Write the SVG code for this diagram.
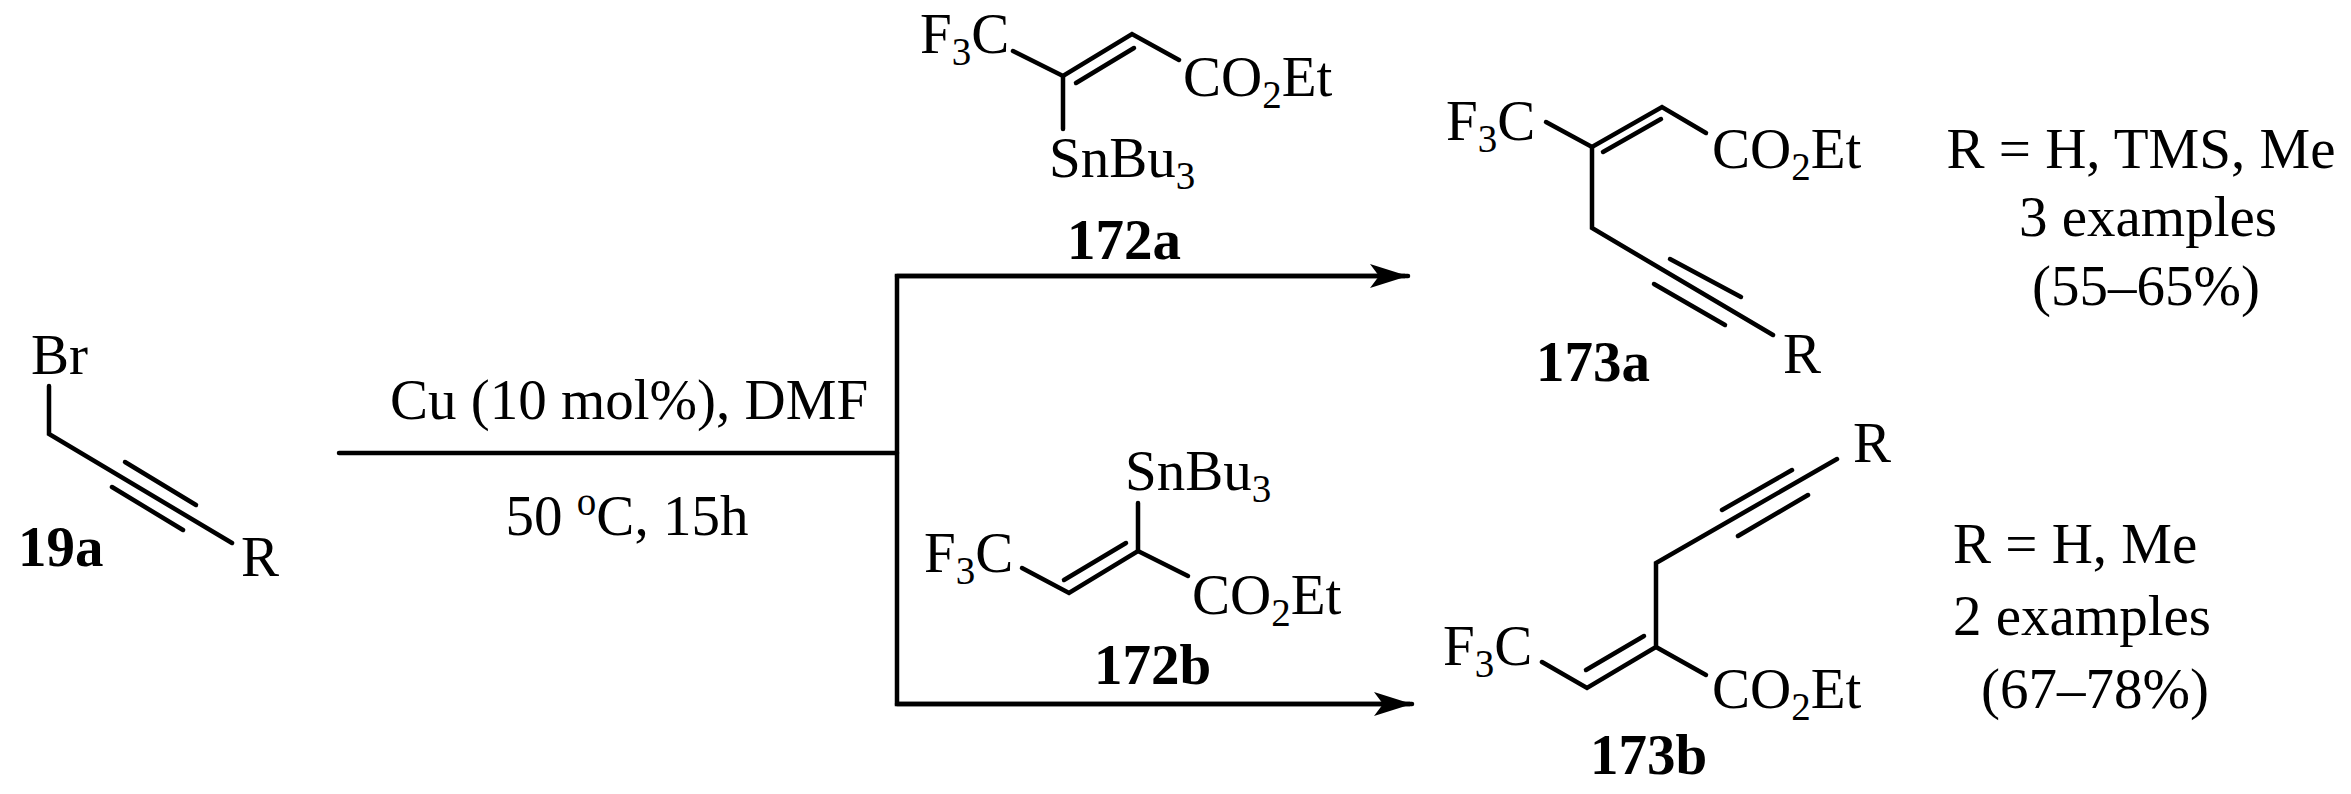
<svg xmlns="http://www.w3.org/2000/svg" width="2351" height="794" viewBox="0 0 2351 794">
<style>
text{font-family:"Liberation Serif","Times New Roman",serif;font-size:57px;fill:#000}
.b{font-weight:bold}
.s{font-size:39px}
line,polyline{stroke:#000;stroke-width:4.5;fill:none;stroke-linecap:round}
</style>
<defs>
<marker id="ah" markerUnits="userSpaceOnUse" markerWidth="40" markerHeight="24" refX="38" refY="12" orient="auto">
<path d="M0,0 L38,12 L0,24 L9,12 Z" fill="#000"/>
</marker>
</defs>
<rect width="2351" height="794" fill="#fff"/>
<g id="connectors">
<line x1="339" y1="453" x2="897" y2="453"/>
<polyline points="1405,276 897,276 897,704 1410,704" style="stroke-linecap:butt"/>
<line x1="897" y1="276" x2="1408" y2="276" marker-end="url(#ah)"/>
<line x1="897" y1="704" x2="1412" y2="704" marker-end="url(#ah)"/>
</g>
<g id="n19a">
<text x="31" y="374">Br</text>
<polyline points="49,386 49,434 232,543"/>
<line x1="125" y1="462" x2="196" y2="505"/>
<line x1="112" y1="487" x2="183" y2="530"/>
<text x="241" y="576">R</text>
<text class="b" x="18" y="566">19a</text>
</g>
<g id="conditions">
<text x="629" y="419" text-anchor="middle">Cu (10 mol%), DMF</text>
<text x="627" y="535" text-anchor="middle">50 <tspan class="s" dy="-20">o</tspan><tspan dy="20">C, 15h</tspan></text>
</g>
<g id="n172a">
<text x="920" y="53">F<tspan class="s" dy="12">3</tspan><tspan dy="-12">C</tspan></text>
<polyline points="1013,51 1063,76 1132,34 1179,60"/>
<line x1="1076" y1="83" x2="1134" y2="48"/>
<line x1="1063" y1="76" x2="1063" y2="129"/>
<text x="1183" y="96">CO<tspan class="s" dy="12">2</tspan><tspan dy="-12">Et</tspan></text>
<text x="1049" y="177">SnBu<tspan class="s" dy="12">3</tspan></text>
<text class="b" x="1067" y="259">172a</text>
</g>
<g id="n172b">
<text x="1125" y="490">SnBu<tspan class="s" dy="12">3</tspan></text>
<line x1="1138" y1="503" x2="1138" y2="551"/>
<text x="924" y="572">F<tspan class="s" dy="12">3</tspan><tspan dy="-12">C</tspan></text>
<polyline points="1022,568 1069,593 1138,551 1188,576"/>
<line x1="1064" y1="580" x2="1126" y2="543"/>
<text x="1192" y="614">CO<tspan class="s" dy="12">2</tspan><tspan dy="-12">Et</tspan></text>
<text class="b" x="1094" y="684">172b</text>
</g>
<g id="n173a">
<text x="1446" y="140">F<tspan class="s" dy="12">3</tspan><tspan dy="-12">C</tspan></text>
<polyline points="1546,122 1592,147 1662,107 1706,133"/>
<line x1="1603" y1="152" x2="1661" y2="119"/>
<polyline points="1592,147 1592,228 1773,335"/>
<line x1="1670" y1="259" x2="1741" y2="297"/>
<line x1="1654" y1="284" x2="1725" y2="325"/>
<text x="1712" y="168">CO<tspan class="s" dy="12">2</tspan><tspan dy="-12">Et</tspan></text>
<text x="1783" y="373">R</text>
<text class="b" x="1536" y="381">173a</text>
</g>
<g id="n173b">
<text x="1853" y="462">R</text>
<polyline points="1837,459 1656,563 1656,647 1587,688 1542,662"/>
<line x1="1722" y1="510" x2="1792" y2="470"/>
<line x1="1738" y1="536" x2="1808" y2="495"/>
<line x1="1586" y1="670" x2="1644" y2="636"/>
<line x1="1656" y1="647" x2="1706" y2="675"/>
<text x="1443" y="665">F<tspan class="s" dy="12">3</tspan><tspan dy="-12">C</tspan></text>
<text x="1712" y="708">CO<tspan class="s" dy="12">2</tspan><tspan dy="-12">Et</tspan></text>
<text class="b" x="1590" y="774">173b</text>
</g>
<g id="notes">
<text x="2141" y="168" text-anchor="middle">R = H, TMS, Me</text>
<text x="2148" y="236" text-anchor="middle">3 examples</text>
<text x="2146" y="305" text-anchor="middle">(55–65%)</text>
<text x="1953" y="563">R = H, Me</text>
<text x="1953" y="635">2 examples</text>
<text x="1981" y="708">(67–78%)</text>
</g>
</svg>
